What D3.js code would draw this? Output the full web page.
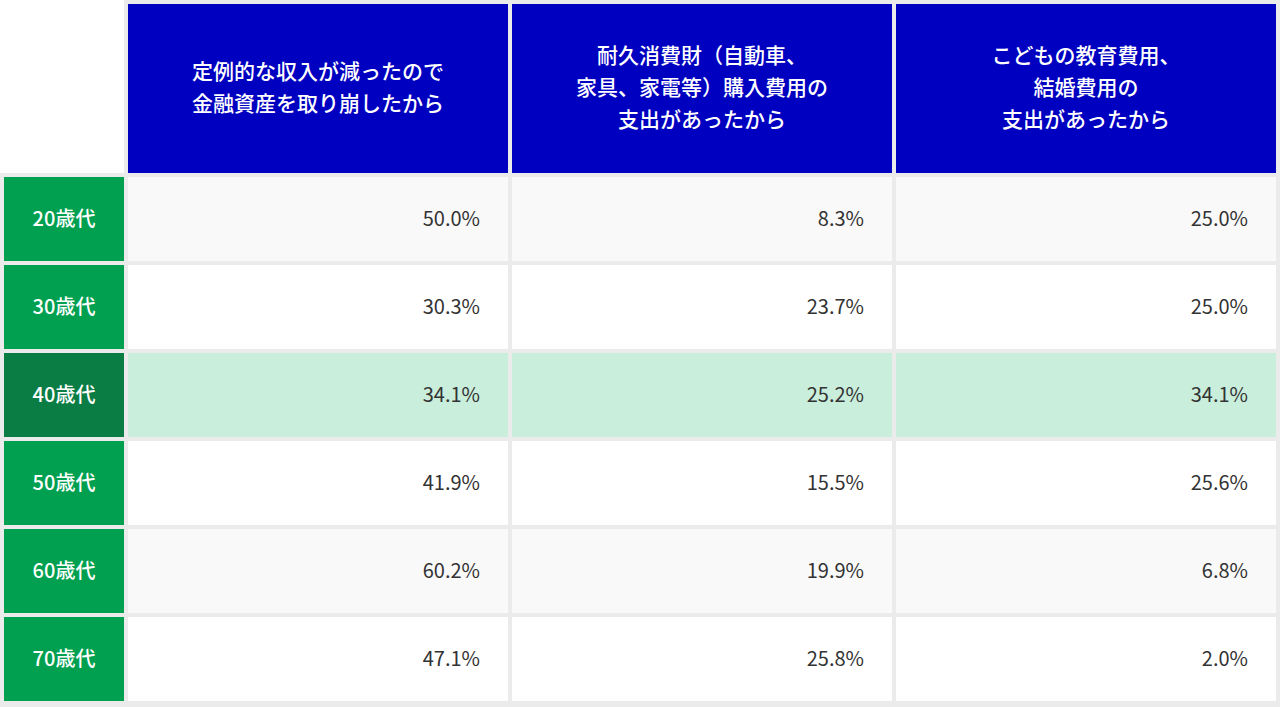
<script src="https://cdn.jsdelivr.net/npm/d3@7"></script>
<html>
<body style="margin:0;background:#fff">
<div id="chart"></div>
<script>
var headers = [
  ["定例的な収入が減ったので", "金融資産を取り崩したから"],
  ["耐久消費財（自動車、", "家具、家電等）購入費用の", "支出があったから"],
  ["こどもの教育費用、", "結婚費用の", "支出があったから"]
];
var ages = ["20歳代", "30歳代", "40歳代", "50歳代", "60歳代", "70歳代"];
var col1 = [50.0, 30.3, 34.1, 41.9, 60.2, 47.1];
var col2 = [8.3, 23.7, 25.2, 15.5, 19.9, 25.8];
var col3 = [25.0, 25.0, 34.1, 25.6, 6.8, 2.0];
var highlight = "40歳代";

var W = 1280, H = 707;
var svg = d3.select("#chart").append("svg").attr("width", W).attr("height", H)
  .style("font-family", "'Noto Sans CJK JP', 'Noto Sans', sans-serif");
svg.append("rect").attr("x", 0).attr("y", 173).attr("width", W).attr("height", H - 173).attr("fill", "#ebebeb");
svg.append("rect").attr("x", 124).attr("y", 0).attr("width", W - 124).attr("height", 177).attr("fill", "#ebebeb");

// column positions: label col + 3 data cols
var x = d3.scaleBand().domain([0, 1, 2, 3]).range([-380 + 124 + 4, 1280]).paddingInner(0);
var colX = [4, 128, 512, 896], colW = [120, 380, 380, 380];
var y = d3.scaleBand().domain(ages).range([177, 177 + 6 * 88]);
var rowH = 84;

// header
headers.forEach(function(lines, i) {
  var cx = colX[i + 1];
  svg.append("rect").attr("x", cx).attr("y", 4).attr("width", colW[i + 1]).attr("height", 169).attr("fill", "#0000c0");
  var lh = 32, top = 88 - (lines.length - 1) * lh / 2;
  svg.append("text").attr("x", cx + colW[i + 1] / 2).attr("fill", "#fff")
    .attr("font-size", 21).attr("font-weight", 500).attr("text-anchor", "middle")
    .selectAll("tspan").data(lines).enter().append("tspan")
    .attr("x", cx + colW[i + 1] / 2).attr("y", function(d, j) { return top + j * lh; })
    .attr("dy", "0.35em").text(function(d) { return d; });
});

var cols = [col1, col2, col3];
ages.forEach(function(a, r) {
  var ry = y(a), hi = a === highlight;
  svg.append("rect").attr("x", colX[0]).attr("y", ry).attr("width", colW[0]).attr("height", rowH)
    .attr("fill", hi ? "#0a7d45" : "#00a050");
  svg.append("text").attr("x", colX[0] + colW[0] / 2).attr("y", ry + rowH / 2).attr("dy", "0.35em")
    .attr("text-anchor", "middle").attr("fill", "#fff").attr("font-size", 20).attr("font-weight", 500).text(a);
  cols.forEach(function(c, i) {
    svg.append("rect").attr("x", colX[i + 1]).attr("y", ry).attr("width", colW[i + 1]).attr("height", rowH)
      .attr("fill", hi ? "#c9eedb" : (r % 2 === 0 ? "#f9f9f9" : "#ffffff"));
    svg.append("text").attr("x", colX[i + 1] + colW[i + 1] - 28).attr("y", ry + rowH / 2).attr("dy", "0.35em")
      .attr("text-anchor", "end").attr("fill", "#333").attr("font-size", 20).text(c[r].toFixed(1) + "%");
  });
});
</script>
</body>
</html>
